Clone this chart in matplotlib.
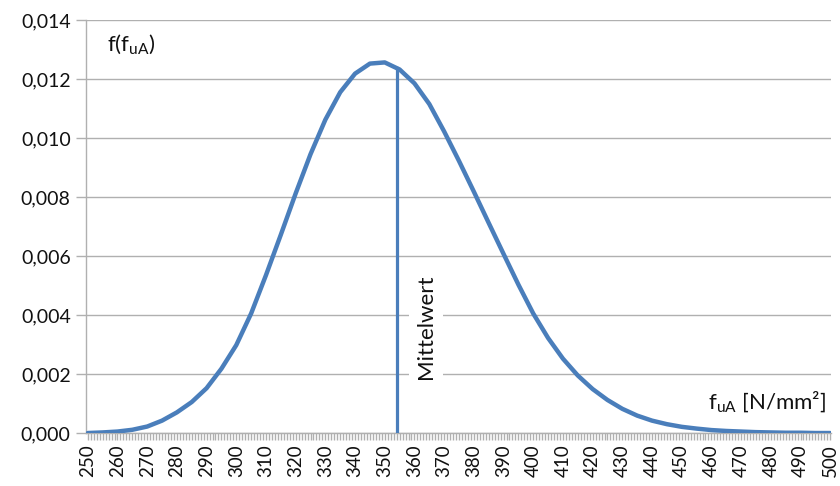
import numpy as np
import matplotlib
matplotlib.use("Agg")
import matplotlib.pyplot as plt
from matplotlib.ticker import MultipleLocator, FuncFormatter

plt.rcParams['font.family'] = ['Lato', 'DejaVu Sans']

# density of the tensile strength f_uA
x_vals = [250, 255, 260, 265, 270, 275, 280, 285, 290, 295,
          300, 305, 310, 315, 320, 325, 330, 335, 340, 345,
          350, 355, 360, 365, 370, 375, 380, 385, 390, 395,
          400, 405, 410, 415, 420, 425, 430, 435, 440, 445,
          450, 455, 460, 465, 470, 475, 480, 485, 490, 495, 500]
density = [0.00000, 0.00002, 0.00005, 0.00011, 0.00022, 0.00042, 0.00070, 0.00105, 0.00152, 0.00218,
           0.00298, 0.00405, 0.00535, 0.00672, 0.00812, 0.00945, 0.01062, 0.01155, 0.01218, 0.01252,
           0.01256, 0.01232, 0.01185, 0.01115, 0.01022, 0.00922, 0.00818, 0.00712, 0.00607, 0.00503,
           0.00405, 0.00322, 0.00252, 0.00195, 0.00149, 0.00112, 0.00082, 0.00059, 0.00042, 0.00030,
           0.00021, 0.00015, 0.00010, 0.00007, 0.00005, 0.00003, 0.00002, 0.00001, 0.00001, 0.00000, 0.00000]
mean_value = 354

blue = '#4a7ebb'
grey = '#b0b0b0'
text_color = '#111111'

fig = plt.figure(figsize=(8.4, 4.86), dpi=100)
ax = fig.add_axes([0.1024, 0.109, 0.887, 0.850])

ax.plot(x_vals, density, color=blue, lw=3.2, solid_capstyle='round',
        solid_joinstyle='round', zorder=3)
mean_top = np.interp(mean_value, x_vals, density)
ax.plot([mean_value, mean_value], [0, mean_top], color=blue, lw=2.3, zorder=3)

ax.set_xlim(249.4, 500.3)
ax.set_ylim(0, 0.014)

ax.yaxis.set_major_locator(MultipleLocator(0.002))
ax.yaxis.set_major_formatter(FuncFormatter(lambda v, p: f"{v:.3f}".replace('.', ',')))
ax.grid(axis='y', color=grey, lw=1.0, zorder=0)

ax.xaxis.set_major_locator(MultipleLocator(10))
ax.xaxis.set_minor_locator(MultipleLocator(1))
ax.xaxis.set_major_formatter(FuncFormatter(lambda v, p: f"{int(round(v))}"))

for s in ['top', 'right']:
    ax.spines[s].set_visible(False)
for s in ['left', 'bottom']:
    ax.spines[s].set_color(grey)
    ax.spines[s].set_linewidth(1.0)

ax.tick_params(axis='y', which='major', length=7, width=1, color=grey,
               labelsize=14, pad=4, labelcolor=text_color)
ax.tick_params(axis='x', which='major', length=5, width=1, color=grey,
               labelsize=13.5, pad=3, labelrotation=90, labelcolor=text_color)
ax.tick_params(axis='x', which='minor', length=5, width=1, color=grey)

ax.text(0.028, 0.94, r"f(f$_{\mathregular{uA}}$)", transform=ax.transAxes,
        fontsize=16, ha='left', va='center', color=text_color)
ax.text(0.993, 0.075, r"f$_{\mathregular{uA}}$ [N/mm²]", transform=ax.transAxes,
        fontsize=16, ha='right', va='center', color=text_color)
ax.text(mean_value + 9.8, 0.0036, "Mittelwert", rotation=90, fontsize=16,
        ha='center', va='center', color=text_color, zorder=4,
        bbox=dict(facecolor='white', edgecolor='none', pad=5))

fig.savefig("out.png", dpi=100)
